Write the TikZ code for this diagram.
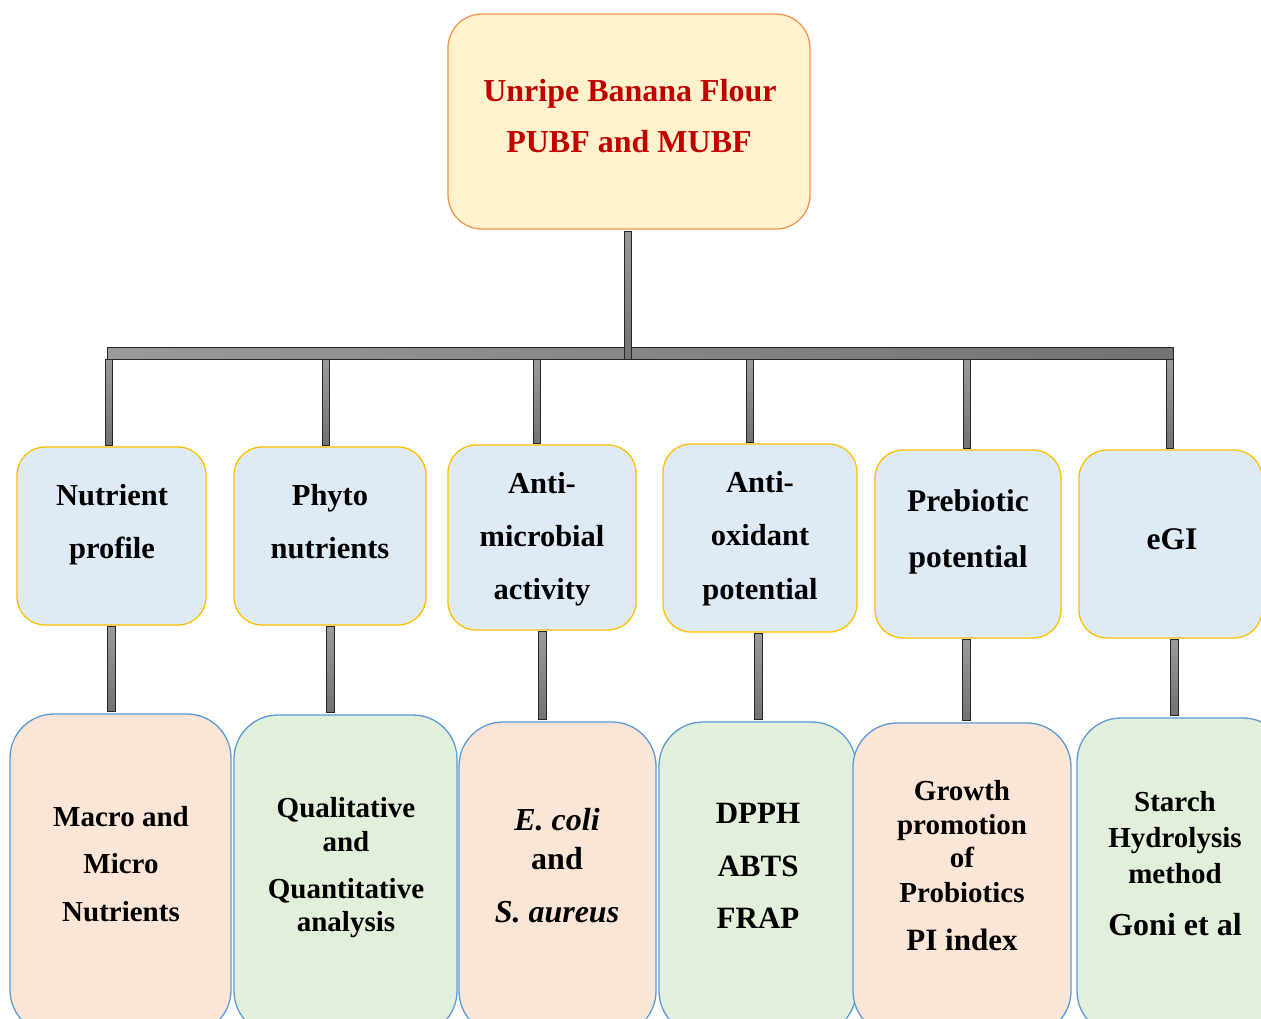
\documentclass[tikz,border=0pt]{standalone}
\usepackage{fontspec}
\setmainfont{Liberation Serif}
\usetikzlibrary{calc}

\definecolor{topfill}{HTML}{FFF2CC}
\definecolor{topline}{HTML}{F1964F}
\definecolor{toptext}{HTML}{C00000}
\definecolor{bluefill}{HTML}{DEEBF7}
\definecolor{goldline}{HTML}{FFC000}
\definecolor{peachfill}{HTML}{FBE5D6}
\definecolor{greenfill}{HTML}{E2EFDA}
\definecolor{blueline}{HTML}{5B9BD5}
\definecolor{barlight}{HTML}{9A9A9A}
\definecolor{bardark}{HTML}{727272}
\definecolor{baredge}{HTML}{262626}

\tikzset{
  boxbase/.style={inner sep=0pt, outer sep=0pt, anchor=north west, line width=1.3pt},
  rootbox/.style={boxbase, draw=topline, fill=topfill, rounded corners=34pt},
  midbox/.style={boxbase, draw=goldline, fill=bluefill, rounded corners=28pt},
  lowbox/.style={boxbase, draw=blueline, rounded corners=44pt},
  peachbox/.style={lowbox, fill=peachfill},
  greenbox/.style={lowbox, fill=greenfill},
  hbarstyle/.style={inner sep=0pt, outer sep=0pt, anchor=north west, draw=baredge,
    line width=1pt, left color=barlight, right color=bardark},
  vbar/.style={draw=baredge, line width=1pt, top color=barlight, bottom color=bardark},
  lbl/.style={anchor=base, inner sep=0pt, font=\fontsize{#1}{#1}\selectfont\bfseries},
  lbl/.default=30.5
}

\begin{document}
\begin{tikzpicture}[x=1pt,y=-1pt]
\clip (0,0) rectangle (1261,1018);
\fill[white] (0,0) rectangle (1261,1018);

% root box
\node[rootbox, minimum width=362pt, minimum height=215pt] (root) at (448,14) {};

% second level
\node[midbox, minimum width=189pt, minimum height=178pt] (m1) at (17,447) {};
\node[midbox, minimum width=192pt, minimum height=178pt] (m2) at (234,447) {};
\node[midbox, minimum width=188pt, minimum height=185pt] (m3) at (448,445) {};
\node[midbox, minimum width=194pt, minimum height=188pt] (m4) at (663,444) {};
\node[midbox, minimum width=186pt, minimum height=188pt] (m5) at (875,450) {};
\node[midbox, minimum width=183pt, minimum height=188pt] (m6) at (1079,450) {};

% third level
\node[peachbox, minimum width=221pt, minimum height=320pt] (b1) at (10,714) {};
\node[greenbox, minimum width=223pt, minimum height=320pt] (b2) at (234,715) {};
\node[peachbox, minimum width=197pt, minimum height=313pt] (b3) at (459,722) {};
\node[greenbox, minimum width=197pt, minimum height=313pt] (b4) at (659,722) {};
\node[peachbox, minimum width=218pt, minimum height=312pt] (b5) at (853,723) {};
\node[greenbox, minimum width=210pt, minimum height=317pt] (b6) at (1077,718) {};

% horizontal distribution bar
\node[hbarstyle, minimum width=1066pt, minimum height=12pt] (hbar) at (107,347) {};

% root to bar
\draw[vbar] ($(root.south)+(-5,2)$) rectangle ($(hbar.south -| root.south)+(2,0)$);

% bar to second level
\foreach \n/\d in {m1/-3,m2/-4.5,m3/-5,m4/-10,m5/-1,m6/-1}
  \draw[vbar] ($(hbar.south -| \n.north)+(\d-3.5,0)$) rectangle ($(\n.north)+(\d+3.5,-2)$);

% second to third level
\foreach \a/\b/\d in {m1/b1/-0.5,m2/b2/0,m3/b3/0,m4/b4/-2,m5/b5/-2,m6/b6/4}
  \draw[vbar] ($(\a.south)+(\d-4,1)$) rectangle ($(\b.north -| \a.south)+(\d+4,-3)$);

% root text
\node[lbl=32, text=toptext] (r1) at (630,101) {Unripe Banana Flour};
\node[lbl=32, text=toptext] (r2) at (629,152) {PUBF and MUBF};

% second level text
\node[lbl] (m1a) at (112,505) {Nutrient};
\node[lbl] (m1b) at (112,558) {profile};
\node[lbl] (m2a) at (330,505) {Phyto};
\node[lbl] (m2b) at (330,558) {nutrients};
\node[lbl] (m3a) at (542,493) {Anti-};
\node[lbl] (m3b) at (542,546) {microbial};
\node[lbl] (m3c) at (542,599) {activity};
\node[lbl] (m4a) at (760,492) {Anti-};
\node[lbl] (m4b) at (760,545) {oxidant};
\node[lbl] (m4c) at (760,599) {potential};
\node[lbl=31.5] (m5a) at (968,511) {Prebiotic};
\node[lbl=31.5] (m5b) at (968,567) {potential};
\node[lbl=31.5] (m6a) at (1172,549) {eGI};

% third level text
\node[lbl=29] (b1a) at (121,826) {Macro and};
\node[lbl=29] (b1b) at (121,873) {Micro};
\node[lbl=29] (b1c) at (121,921) {Nutrients};
\node[lbl=29] (b2a) at (346,817) {Qualitative};
\node[lbl=29] (b2b) at (346,851) {and};
\node[lbl=29] (b2c) at (346,898) {Quantitative};
\node[lbl=29] (b2d) at (346,931) {analysis};
\node[lbl=32] (b3a) at (557,830) {\itshape E. coli};
\node[lbl=32] (b3b) at (557,869) {and};
\node[lbl=32] (b3c) at (557,922) {\itshape S. aureus};
\node[lbl=31] (b4a) at (758,823) {DPPH};
\node[lbl=31] (b4b) at (758,876) {ABTS};
\node[lbl=31] (b4c) at (758,928) {FRAP};
\node[lbl=29] (b5a) at (962,800) {Growth};
\node[lbl=29] (b5b) at (962,834) {promotion};
\node[lbl=29] (b5c) at (962,867) {of};
\node[lbl=29] (b5d) at (962,902) {Probiotics};
\node[lbl=31] (b5e) at (962,950) {PI index};
\node[lbl=29] (b6a) at (1175,811) {Starch};
\node[lbl=29] (b6b) at (1175,847) {Hydrolysis};
\node[lbl=29] (b6c) at (1175,883) {method};
\node[lbl=32] (b6d) at (1175,935) {Goni et al};
\end{tikzpicture}
\end{document}
